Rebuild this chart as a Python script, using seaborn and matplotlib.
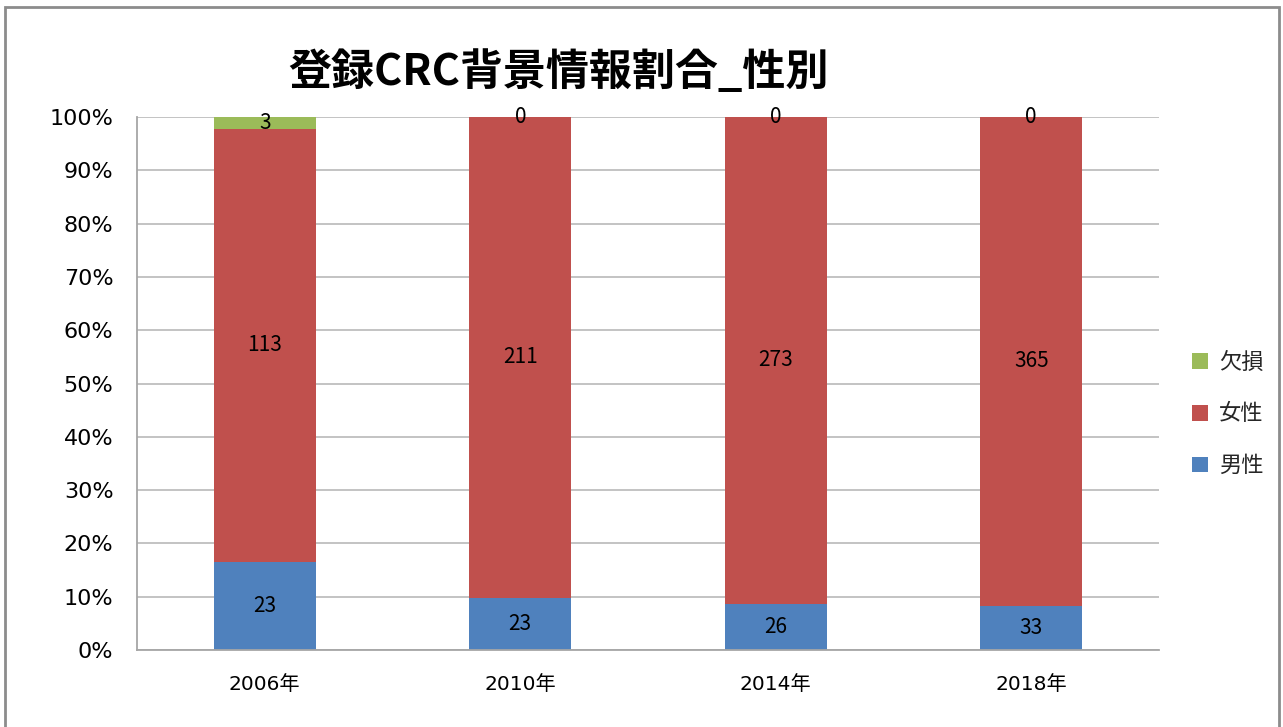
import numpy as np
import pandas as pd
import matplotlib
matplotlib.use("Agg")
import matplotlib.pyplot as plt
import seaborn as sns
from matplotlib.patches import Rectangle
from matplotlib.ticker import PercentFormatter, FixedLocator

# ==========================================
# DATA
# ==========================================
years = ["2006年", "2010年", "2014年", "2018年"]
male = [23, 23, 26, 33]
female = [113, 211, 273, 365]
missing = [3, 0, 0, 0]

series_names = ["男性", "女性", "欠損"]
series_colors = ["#4F81BD", "#C0504D", "#9BBB59"]

# ==========================================
# STYLE
# ==========================================
sns.set_theme(style="white")
font_list = ["DejaVu Sans", "Noto Sans CJK JP"]
plt.rcParams["font.family"] = font_list

counts = pd.DataFrame({"男性": male, "女性": female, "欠損": missing}, index=years)
shares = counts.div(counts.sum(axis=1), axis=0)

fig = plt.figure(figsize=(12.83, 7.27), dpi=100)
ax = fig.add_axes([137 / 1283, 77 / 727, (1159 - 137) / 1283, (650 - 117) / 727])

# ==========================================
# STACKED BARS
# ==========================================
bottom = np.zeros(len(years))
for name, color in zip(series_names, series_colors):
    sns.barplot(x=years, y=shares[name].values, order=years, color=color,
                saturation=1, width=0.4, bottom=bottom, ax=ax, label=name,
                edgecolor="none", linewidth=0)
    cont = ax.containers[-1]
    ax.bar_label(cont, labels=[str(v) for v in counts[name]], label_type="center",
                 fontsize=15, color="black", family=["Noto Sans CJK JP", "DejaVu Sans"])
    bottom = bottom + shares[name].values

# ==========================================
# AXES
# ==========================================
ax.set_ylim(0, 1)
ax.set_xlim(-0.5, 3.5)
ax.yaxis.set_major_locator(FixedLocator(np.arange(0, 1.01, 0.1)))
ax.yaxis.set_major_formatter(PercentFormatter(1.0, decimals=0))
ax.grid(axis="y", color="#BEBEBE", linewidth=1.3)
ax.set_axisbelow(True)
for s in ["top", "right"]:
    ax.spines[s].set_visible(False)
for s in ["left", "bottom"]:
    ax.spines[s].set_color("#A6A6A6")
    ax.spines[s].set_linewidth(1.3)

ax.tick_params(axis="y", length=0, pad=17, labelsize=16, labelcolor="black")
ax.tick_params(axis="x", which="major", length=0, pad=18, labelsize=14.5, labelcolor="black")
ax.xaxis.set_minor_locator(FixedLocator([0.5, 1.5, 2.5, 3.5]))
ax.tick_params(axis="x", which="minor", direction="in", length=8, width=1.3, color="#A6A6A6")
ax.set_xlabel("")
ax.set_ylabel("")
for lab in ax.get_xticklabels():
    lab.set_family(["DejaVu Sans", "Noto Sans CJK JP"])

# ==========================================
# LEGEND / TITLE / FRAME
# ==========================================
handles, labels = ax.get_legend_handles_labels()
fig.legend(handles[::-1], labels[::-1], loc="center left",
           bbox_to_anchor=(1172 / 1283, 313 / 727), frameon=False,
           handlelength=0.7, handleheight=0.7, handletextpad=0.5,
           labelspacing=1.3, prop={"family": ["Noto Sans CJK JP"], "size": 16})
if ax.get_legend() is not None:
    ax.get_legend().remove()

fig.text(558 / 1283, 655 / 727, "登録CRC背景情報割合_性別", ha="center", va="center",
         fontsize=31, fontweight="bold", color="black",
         family=["Noto Sans CJK JP", "DejaVu Sans"])

fig.patches.append(Rectangle((5 / 1283, -0.05), 1274 / 1283, 1.05 - 7 / 727,
                             transform=fig.transFigure, fill=False,
                             edgecolor="#8C8C8C", linewidth=2))

fig.savefig("out.png", dpi=100, facecolor="white")
